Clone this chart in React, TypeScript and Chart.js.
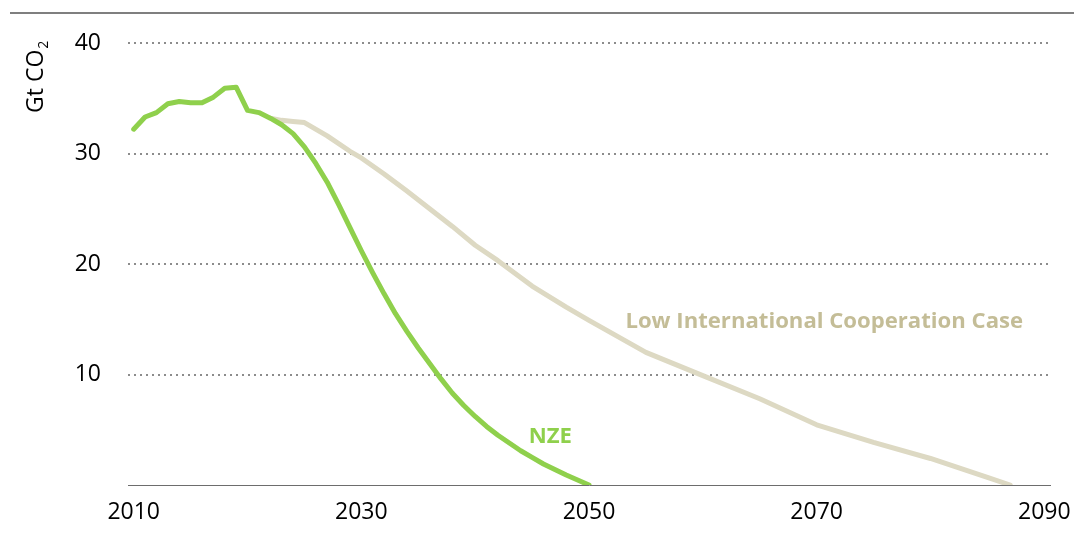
import React, { useEffect, useRef } from "react";
import { Chart, registerables } from "chart.js";

Chart.register(...registerables);

// ---- data ----
const nzeYears = [
  2010, 2011, 2012, 2013, 2014, 2015, 2016, 2017, 2018, 2019,
  2020, 2021, 2022, 2023, 2024, 2025, 2026, 2027, 2028, 2029,
  2030, 2031, 2032, 2033, 2034, 2035, 2036, 2037, 2038, 2039,
  2040, 2041, 2042, 2043, 2044, 2045, 2046, 2047, 2048, 2049, 2050,
];
const nzeValues = [
  32.2, 33.3, 33.7, 34.5, 34.7, 34.6, 34.6, 35.1, 35.9, 36.0,
  33.9, 33.7, 33.2, 32.6, 31.8, 30.6, 29.1, 27.4, 25.4, 23.3,
  21.2, 19.2, 17.3, 15.5, 13.9, 12.4, 11.0, 9.6, 8.3, 7.2,
  6.2, 5.3, 4.5, 3.8, 3.1, 2.5, 1.9, 1.4, 0.9, 0.45, 0,
];

const licYears = [
  2022, 2023, 2024, 2025, 2027, 2029, 2030, 2032, 2034, 2036,
  2038, 2040, 2042, 2045, 2048, 2050, 2055, 2060, 2065,
  2070, 2075, 2080, 2085, 2087,
];
const licValues = [
  33.2, 33.0, 32.9, 32.8, 31.6, 30.2, 29.6, 28.15, 26.6, 25.0,
  23.4, 21.7, 20.3, 18.0, 16.1, 14.9, 12.0, 9.9, 7.8,
  5.45, 3.85, 2.4, 0.7, 0,
];

const xTickValues = [2010, 2030, 2050, 2070, 2090];
const xTickLabels = ["2010", "2030", "2050", "2070", "2090"];
const yTickLabels = ["", "10", "20", "30", "40"];

const seriesNames = ["NZE", "Low International Cooperation Case"];
const yTitleMain = "Gt CO";
const yTitleSub = "2";

// label anchors in data units
const nzeLabelAnchor = { x: 2048.5, y: 3.8 };
const licLabelAnchor = { x: 2053.2, y: 14.2 };

const FONT = "'Open Sans', 'DejaVu Sans', sans-serif";
const GREEN = "#8fd04c";
const BEIGE = "#ddd9c3";
const BEIGE_TEXT = "#c4bd97";

const decorPlugin = {
  id: "decor",
  afterDraw(chart: any) {
    const ctx = chart.ctx as CanvasRenderingContext2D;
    const xs = chart.scales.x;
    const ys = chart.scales.y;
    ctx.save();

    // top rule
    ctx.strokeStyle = "#7f7f7f";
    ctx.lineWidth = 2;
    ctx.beginPath();
    ctx.moveTo(10, 13);
    ctx.lineTo(chart.width, 13);
    ctx.stroke();

    // y title, rotated
    ctx.save();
    ctx.translate(43, 113);
    ctx.rotate(-Math.PI / 2);
    ctx.fillStyle = "#000";
    ctx.textAlign = "left";
    ctx.textBaseline = "alphabetic";
    ctx.font = `23px ${FONT}`;
    ctx.fillText(yTitleMain, 0, 0);
    const w = ctx.measureText(yTitleMain).width;
    ctx.font = `14px ${FONT}`;
    ctx.fillText(yTitleSub, w + 1, 5);
    ctx.restore();

    // series labels
    ctx.font = `bold 22px ${FONT}`;
    const natural = ctx.measureText(seriesNames[1]).width;
    const size = (22 * 398) / natural;
    ctx.font = `bold ${size}px ${FONT}`;
    ctx.textBaseline = "alphabetic";

    ctx.fillStyle = BEIGE_TEXT;
    ctx.textAlign = "left";
    ctx.fillText(
      seriesNames[1],
      xs.getPixelForValue(licLabelAnchor.x),
      ys.getPixelForValue(licLabelAnchor.y)
    );

    ctx.fillStyle = GREEN;
    ctx.textAlign = "right";
    ctx.fillText(
      seriesNames[0],
      xs.getPixelForValue(nzeLabelAnchor.x),
      ys.getPixelForValue(nzeLabelAnchor.y)
    );
    ctx.restore();
  },
};

export default function App() {
  const ref = useRef<HTMLCanvasElement | null>(null);

  useEffect(() => {
    if (!ref.current) return;
    const chart = new Chart(ref.current, {
      type: "line",
      data: {
        datasets: [
          {
            label: seriesNames[1],
            data: licYears.map((yr, i) => ({ x: yr, y: licValues[i] })),
            borderColor: BEIGE,
            borderWidth: 5,
            pointRadius: 0,
            fill: false,
            tension: 0,
            borderCapStyle: "round",
            borderJoinStyle: "round",
            order: 2,
          },
          {
            label: seriesNames[0],
            data: nzeYears.map((yr, i) => ({ x: yr, y: nzeValues[i] })),
            borderColor: GREEN,
            borderWidth: 5,
            pointRadius: 0,
            fill: false,
            tension: 0,
            borderCapStyle: "round",
            borderJoinStyle: "round",
            order: 1,
          },
        ],
      },
      options: {
        animation: false,
        responsive: true,
        maintainAspectRatio: false,
        devicePixelRatio: 1,
        layout: { padding: { top: 43, right: 24, left: 0, bottom: 0 } },
        plugins: {
          legend: { display: false },
          tooltip: { enabled: false },
        },
        scales: {
          x: {
            type: "linear",
            min: 2009.5,
            max: 2090.5,
            afterBuildTicks: (s: any) => {
              s.ticks = xTickValues.map((v) => ({ value: v }));
            },
            ticks: {
              autoSkip: false,
              maxRotation: 0,
              padding: 14,
              color: "#000",
              font: { family: FONT, size: 23 },
              callback: (_v: any, i: number) => xTickLabels[i] ?? "",
            },
            grid: { display: false, drawTicks: false },
            border: { display: true, color: "#6d6d6d", width: 1 },
            afterFit: (s: any) => {
              s.height = 50;
              s.paddingLeft = 0;
              s.paddingRight = 0;
            },
          },
          y: {
            min: 0,
            max: 40,
            ticks: {
              stepSize: 10,
              padding: 27,
              color: "#000",
              font: { family: FONT, size: 23 },
              callback: (_v: any, i: number) => yTickLabels[i] ?? "",
            },
            grid: {
              drawTicks: false,
              lineWidth: 2,
              color: (c: any) =>
                c.tick && c.tick.value === 0 ? "rgba(0,0,0,0)" : "#8c8c8c",
            },
            border: { display: false, dash: [2, 4] },
            afterFit: (s: any) => {
              s.width = 128;
              s.paddingTop = 0;
              s.paddingBottom = 0;
            },
          },
        },
      },
      plugins: [decorPlugin],
    } as any);
    return () => chart.destroy();
  }, []);

  return (
    <div
      style={{
        position: "absolute",
        left: 0,
        top: 0,
        width: 1074,
        height: 535,
        background: "#fff",
      }}
    >
      <canvas ref={ref} />
    </div>
  );
}
